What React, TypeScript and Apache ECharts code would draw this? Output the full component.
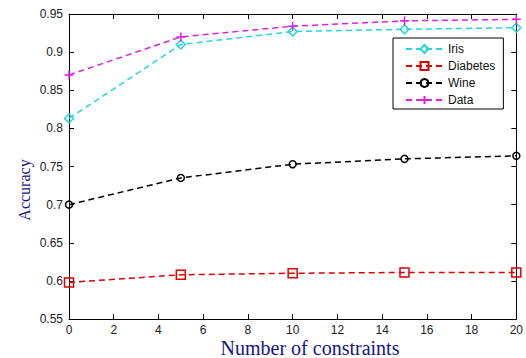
import React, { useEffect, useRef } from "react";
import * as echarts from "echarts";

const xValues = [0, 5, 10, 15, 20];
const irisValues = [0.813, 0.91, 0.927, 0.93, 0.932];
const diabetesValues = [0.598, 0.608, 0.61, 0.611, 0.611];
const wineValues = [0.7, 0.735, 0.753, 0.76, 0.764];
const dataValues = [0.87, 0.92, 0.934, 0.941, 0.943];
const seriesNames = ["Iris", "Diabetes", "Wine", "Data"];

const PLUS = "path://M0,-10L0,10M-10,0L10,0";

export default function App() {
  const ref = useRef<HTMLDivElement>(null);
  useEffect(() => {
    const chart = echarts.init(ref.current!, null, { renderer: "svg" });
    const pair = (vals: number[]) => xValues.map((x, i) => [x, vals[i]]);
    const labelFont = { fontFamily: "Arial, Liberation Sans, sans-serif", fontSize: 12, color: "#222" };
    const mk = (name: string, vals: number[], color: string, symbol: string, size: number) => ({
      name,
      type: "line",
      data: pair(vals),
      symbol,
      symbolSize: size,
      showSymbol: true,
      lineStyle: { color, width: 1.5, type: [6, 4] },
      itemStyle: { color: "none", borderColor: color, borderWidth: 1.5 },
      emphasis: { disabled: true },
    });
    chart.setOption({
      animation: false,
      backgroundColor: "#fff",
      grid: { left: 69, right: 9, top: 14, bottom: 39, containLabel: false },
      xAxis: [
        {
          type: "value", min: 0, max: 20, interval: 2,
          axisLine: { show: true, lineStyle: { color: "#000", width: 1 } },
          axisTick: { show: true, inside: true, length: 5, lineStyle: { color: "#000" } },
          axisLabel: { ...labelFont, margin: 5 },
          splitLine: { show: false },
        },
        {
          type: "value", min: 0, max: 20, interval: 2, position: "top",
          axisLine: { show: true, onZero: false, lineStyle: { color: "#000", width: 1 } },
          axisTick: { show: true, inside: true, length: 5, lineStyle: { color: "#000" } },
          axisLabel: { show: false },
          splitLine: { show: false },
        },
      ],
      yAxis: [
        {
          type: "value", min: 0.55, max: 0.95, interval: 0.05,
          axisLine: { show: true, lineStyle: { color: "#000", width: 1 } },
          axisTick: { show: true, inside: true, length: 5, lineStyle: { color: "#000" } },
          axisLabel: { ...labelFont, margin: 6, formatter: (v: number) => String(parseFloat(v.toFixed(2))) },
          splitLine: { show: false },
        },
        {
          type: "value", min: 0.55, max: 0.95, interval: 0.05, position: "right",
          axisLine: { show: true, onZero: false, lineStyle: { color: "#000", width: 1 } },
          axisTick: { show: true, inside: true, length: 5, lineStyle: { color: "#000" } },
          axisLabel: { show: false },
          splitLine: { show: false },
        },
      ],
      legend: {
        data: seriesNames,
        orient: "vertical",
        left: 393,
        top: 38,
        padding: [4, 8, 2, 12],
        itemGap: 3,
        itemWidth: 37,
        itemHeight: 10,
        backgroundColor: "#fff",
        borderColor: "#000",
        borderWidth: 1,
        borderRadius: 0,
        textStyle: { fontFamily: "Arial, Liberation Sans, sans-serif", fontSize: 12, lineHeight: 14, color: "#111", padding: [0, 0, 0, 0] },
      },
      graphic: [
        {
          type: "text",
          x: 310,
          y: 348,
          style: { text: "Number of constraints", font: "20px 'Liberation Serif', 'DejaVu Serif', serif", fill: "#14148c", align: "center", verticalAlign: "middle" },
        },
        {
          type: "text",
          x: 24.5,
          y: 190,
          rotation: Math.PI / 2,
          style: { text: "Accuracy", font: "16px 'Liberation Serif', 'DejaVu Serif', serif", fill: "#14148c", align: "center", verticalAlign: "middle" },
        },
      ],
      series: [
        mk("Iris", irisValues, "#22d8e0", "diamond", 9),
        mk("Diabetes", diabetesValues, "#e00000", "rect", 9),
        mk("Wine", wineValues, "#000000", "circle", 7),
        mk("Data", dataValues, "#e020e0", PLUS, 9),
      ],
    });
    return () => chart.dispose();
  }, []);
  return <div ref={ref} style={{ width: 526, height: 358, position: "absolute", left: 0, top: 0 }} />;
}
